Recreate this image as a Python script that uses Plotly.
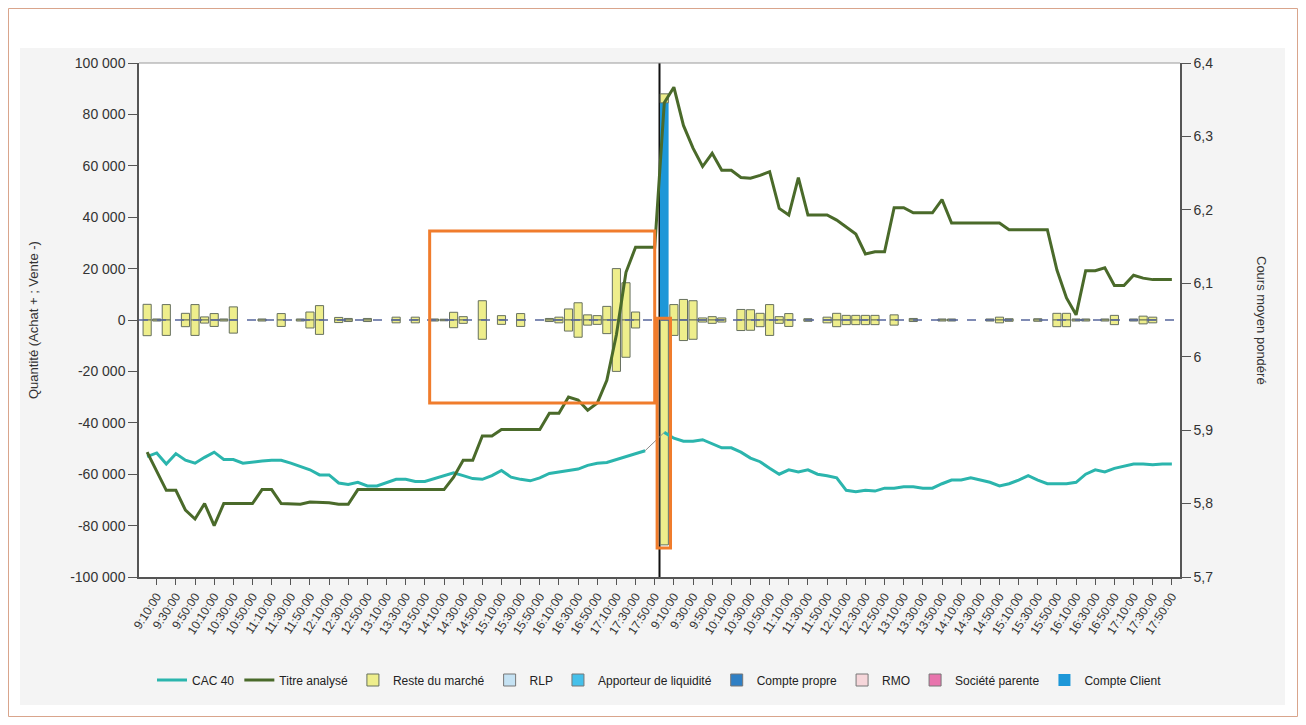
import plotly.graph_objects as go

# ---------------- DATA ----------------
heures = ["9:00:00", "9:10:00", "9:20:00", "9:30:00", "9:40:00", "9:50:00",
          "10:00:00", "10:10:00", "10:20:00", "10:30:00", "10:40:00", "10:50:00",
          "11:00:00", "11:10:00", "11:20:00", "11:30:00", "11:40:00", "11:50:00",
          "12:00:00", "12:10:00", "12:20:00", "12:30:00", "12:40:00", "12:50:00",
          "13:00:00", "13:10:00", "13:20:00", "13:30:00", "13:40:00", "13:50:00",
          "14:00:00", "14:10:00", "14:20:00", "14:30:00", "14:40:00", "14:50:00",
          "15:00:00", "15:10:00", "15:20:00", "15:30:00", "15:40:00", "15:50:00",
          "16:00:00", "16:10:00", "16:20:00", "16:30:00", "16:40:00", "16:50:00",
          "17:00:00", "17:10:00", "17:20:00", "17:30:00", "17:40:00", "17:50:00"]
categories = heures + heures          # jour 1 puis jour 2

# Reste du marché : achats (+) et ventes (-)
reste_achat_j1 = [6100, 400, 6000, None, 2600, 6000, 1200, 2500, 400, 5100,
                  None, None, 400, None, 2500, None, 400, 3100, 5600, None,
                  1000, 600, None, 600, None, None, 1100, None, 1100, None,
                  400, 300, 3000, 1300, None, 7500, None, 1700, None, 2500,
                  None, None, 600, 1100, 4300, 6700, 2000, 1700, 5300, 20000,
                  14500, 3100, None, None]
reste_vente_j1 = [-6100, -400, -6000, None, -2600, -6000, -1200, -2500, -400, -5100,
                  None, None, -400, None, -2500, None, -400, -3100, -5600, None,
                  -1000, -600, None, -600, None, None, -1100, None, -1100, None,
                  -400, -300, -3000, -1300, None, -7500, None, -1700, None, -2500,
                  None, None, -600, -1100, -4300, -6700, -2000, -1700, -5300, -20000,
                  -14500, -3100, None, None]
reste_achat_j2 = [3500, 6000, 8000, 7500, 800, 1300, 800, None, 4100, 4000,
                  2600, 6000, 1300, 2500, None, 500, None, 1100, 2600, 1800,
                  1800, 1800, 1800, None, 2000, None, 600, None, None, 400,
                  400, None, None, None, 400, 1100, 500, None, None, 500,
                  None, 2600, 2600, 400, 400, None, 400, 1800, None, 400,
                  1500, 1100, None, None]
reste_vente_j2 = [-87500, -6000, -8000, -7500, -800, -1300, -800, None, -4100, -4000,
                  -2600, -6000, -1300, -2500, None, -500, None, -1100, -2600, -1800,
                  -1800, -1800, -1800, None, -2000, None, -600, None, None, -400,
                  -400, None, None, None, -400, -1100, -500, None, None, -500,
                  None, -2600, -2600, -400, -400, None, -400, -1800, None, -400,
                  -1500, -1100, None, None]
# Compte Client (achat à l'ouverture du jour 2)
client_j1 = [None] * 54
client_j2 = [84500] + [None] * 53

# Cours (axe de droite)
titre_j1 = [5.870, 5.845, 5.818, 5.818, 5.791, 5.779, 5.800, 5.770, 5.800, 5.800,
            5.800, 5.800, 5.819, 5.819, 5.800, 5.799, 5.799, 5.802, 5.802, 5.801,
            5.799, 5.799, 5.819, 5.819, 5.819, 5.819, 5.819, 5.819, 5.819, 5.819,
            5.819, 5.819, 5.836, 5.859, 5.859, 5.892, 5.892, 5.901, 5.901, 5.901,
            5.901, 5.901, 5.923, 5.923, 5.945, 5.941, 5.927, 5.937, 5.968, 6.030,
            6.115, 6.149, 6.149, 6.149]
titre_j2 = [6.346, 6.367, 6.315, 6.284, 6.259, 6.277, 6.254, 6.254, 6.244, 6.243,
            6.247, 6.252, 6.202, 6.193, 6.244, 6.193, 6.193, 6.193, 6.186, 6.176,
            6.167, 6.140, 6.143, 6.143, 6.203, 6.203, 6.196, 6.196, 6.196, 6.214,
            6.182, 6.182, 6.182, 6.182, 6.182, 6.182, 6.173, 6.173, 6.173, 6.173,
            6.173, 6.118, 6.080, 6.057, 6.117, 6.117, 6.121, 6.097, 6.097, 6.111,
            6.107, 6.105, 6.105, 6.105]
cac_j1 = [5.864, 5.869, 5.854, 5.868, 5.859, 5.855, 5.863, 5.870, 5.860, 5.860,
          5.855, 5.857, 5.858, 5.859, 5.859, 5.855, 5.850, 5.846, 5.839, 5.839,
          5.828, 5.826, 5.829, 5.824, 5.824, 5.828, 5.833, 5.833, 5.830, 5.830,
          5.834, 5.839, 5.842, 5.838, 5.834, 5.833, 5.838, 5.845, 5.836, 5.833,
          5.831, 5.835, 5.841, 5.843, 5.845, 5.847, 5.852, 5.855, 5.856, 5.860,
          5.864, 5.869, 5.872, None]
cac_j2 = [5.897, 5.889, 5.885, 5.885, 5.887, 5.881, 5.876, 5.876, 5.870, 5.862,
          5.857, 5.848, 5.840, 5.846, 5.843, 5.846, 5.840, 5.838, 5.835, 5.818,
          5.816, 5.818, 5.817, 5.821, 5.821, 5.823, 5.823, 5.821, 5.821, 5.827,
          5.832, 5.832, 5.835, 5.832, 5.829, 5.824, 5.827, 5.832, 5.838, 5.832,
          5.827, 5.827, 5.827, 5.829, 5.840, 5.846, 5.843, 5.848, 5.851, 5.854,
          5.854, 5.853, 5.854, 5.854]

y_left_ticks = [100000, 80000, 60000, 40000, 20000, 0, -20000, -40000, -60000, -80000, -100000]
y_left_text = ["100 000", "80 000", "60 000", "40 000", "20 000", "0", "-20 000",
               "-40 000", "-60 000", "-80 000", "-100 000"]
y_right_ticks = [6.4, 6.3, 6.2, 6.1, 6.0, 5.9, 5.8, 5.7]
y_right_text = ["6,4", "6,3", "6,2", "6,1", "6", "5,9", "5,8", "5,7"]

# ---------------- FIGURE ----------------
x = list(range(len(categories)))
reste_achat = reste_achat_j1 + reste_achat_j2
reste_vente = reste_vente_j1 + reste_vente_j2
client = client_j1 + client_j2
titre = titre_j1 + titre_j2
cac = cac_j1 + cac_j2

FONT = "Liberation Sans, Arial, sans-serif"
YEL = "#eeee8c"
BAR_LINE = dict(color="#66705f", width=1)

fig = go.Figure()

# client first so that the yellow part is stacked on top of it
fig.add_trace(go.Bar(x=x, y=client, name="Compte Client", marker=dict(color="#1d97d8", line=dict(width=0)),
                     width=0.9, legendrank=9, yaxis="y"))
fig.add_trace(go.Bar(x=x, y=reste_achat, name="Reste du marché", marker=dict(color=YEL, line=BAR_LINE),
                     width=0.85, legendrank=3, legendgroup="reste", yaxis="y"))
fig.add_trace(go.Bar(x=x, y=reste_vente, name="Reste du marché", marker=dict(color=YEL, line=BAR_LINE),
                     width=0.85, showlegend=False, legendgroup="reste", yaxis="y"))

legend_only = [("RLP", "#c5e2f3", 4), ("Apporteur de liquidité", "#45c0ea", 5),
               ("Compte propre", "#2f7fc4", 6), ("RMO", "#f6d6da", 7),
               ("Société parente", "#e874ad", 8)]
for nm, col, rk in legend_only:
    fig.add_trace(go.Bar(x=x, y=[None] * len(x), name=nm, legendrank=rk,
                         marker=dict(color=col, line=dict(color="#777777", width=1))))

# connector across the overnight gap for CAC 40 (empty point)
fig.add_trace(go.Scatter(x=[52, 54], y=[cac[52], cac[54]], mode="lines",
                         line=dict(color="#8a8a8a", width=1), showlegend=False,
                         hoverinfo="skip", yaxis="y2"))
fig.add_trace(go.Scatter(x=x, y=cac, name="CAC 40", mode="lines", legendrank=1,
                         line=dict(color="#2bb5ad", width=3), yaxis="y2", connectgaps=False))
fig.add_trace(go.Scatter(x=x, y=titre, name="Titre analysé", mode="lines", legendrank=2,
                         line=dict(color="#4a6a2a", width=3), yaxis="y2"))

# page is rendered with an 8px body margin: compensate
OFF = 8
W, H = 1306 - 2 * OFF, 725 - 2 * OFF
L, R, T, B = 139, 1180, 63, 577            # plot area in page pixels
pw, ph = R - L, B - T


def px(v):
    return (v - L) / pw


def py(v):
    return (B - v) / ph


shapes = [
    # light grey chart area
    dict(type="rect", xref="paper", yref="paper", x0=px(20), x1=px(1285), y0=py(705), y1=py(48),
         fillcolor="#f4f4f4", line=dict(width=0), layer="below"),
    dict(type="rect", xref="paper", yref="paper", x0=0, x1=1, y0=0, y1=1,
         fillcolor="white", line=dict(width=0), layer="below"),
    # outer frame
    dict(type="rect", xref="paper", yref="paper", x0=px(8.5), x1=px(1297.5), y0=py(716.5), y1=py(8.5),
         line=dict(color="#d9a58c", width=1), layer="below"),
    # top border of the plot area
    dict(type="line", xref="paper", yref="paper", x0=0, x1=1, y0=1, y1=1,
         line=dict(color="#9a9a9a", width=1), layer="above"),
    # vertical separator between the two sessions
    dict(type="line", xref="x", yref="y", x0=53.5, x1=53.5, y0=-100000, y1=100000,
         line=dict(color="#111111", width=2), layer="below"),
    # zero dashed line
    dict(type="line", xref="paper", yref="y", x0=0, x1=1, y0=0, y1=0,
         line=dict(color="#55669c", width=1.4, dash="dash"), layer="above"),
    # orange highlight boxes
    dict(type="rect", xref="x", yref="y", x0=29.5, x1=53.0, y0=-32300, y1=34600,
         line=dict(color="#f07c2c", width=3), layer="above"),
    dict(type="rect", xref="x", yref="y", x0=53.25, x1=54.65, y0=-88700, y1=700,
         line=dict(color="#f07c2c", width=3), layer="above"),
]

annotations = [
    dict(text="Quantité (Achat + ; Vente -)", xref="paper", yref="paper", x=px(33), y=0.5,
         xanchor="center", yanchor="middle",
         textangle=-90, showarrow=False, font=dict(size=13, color="#333333", family=FONT)),
    dict(text="Cours moyen pondéré", xref="paper", yref="paper", x=px(1262), y=0.5,
         xanchor="center", yanchor="middle",
         textangle=90, showarrow=False, font=dict(size=13, color="#333333", family=FONT)),
]

tickvals = [i for i in x if i % 2 == 1]
ticktext = [categories[i] for i in tickvals]

fig.update_layout(
    width=W, height=H,
    margin=dict(l=L - OFF, r=(W + OFF) - R, t=T - OFF, b=(H + OFF) - B, pad=0),
    paper_bgcolor="white", plot_bgcolor="white",
    barmode="relative", bargap=0.15,
    font=dict(family=FONT, size=12, color="#333333"),
    shapes=shapes, annotations=annotations,
    showlegend=True,
    legend=dict(orientation="h", x=0.5, xanchor="center", y=py(680), yanchor="middle",
                font=dict(size=12, color="#222222", family=FONT), bgcolor="rgba(0,0,0,0)",
                traceorder="normal"),
    xaxis=dict(range=[-0.85, 107.85], tickmode="array", tickvals=tickvals, ticktext=ticktext,
               tickangle=-57, tickfont=dict(size=12), ticks="outside", ticklen=6,
               tickcolor="#555555", showline=True, linecolor="#555555", linewidth=1.5,
               showgrid=False, zeroline=False),
    yaxis=dict(range=[-100000, 100000], tickmode="array", tickvals=y_left_ticks,
               ticktext=y_left_text, tickfont=dict(size=14), ticks="outside", ticklen=9,
               tickcolor="#555555", showline=True, linecolor="#555555", linewidth=1.5,
               showgrid=False, zeroline=False),
    yaxis2=dict(range=[5.7, 6.4], overlaying="y", side="right", tickmode="array",
                tickvals=y_right_ticks, ticktext=y_right_text, tickfont=dict(size=14),
                ticks="outside", ticklen=9, tickcolor="#555555", showline=True,
                linecolor="#555555", linewidth=1.5, showgrid=False, zeroline=False),
)

fig.write_html("out.html")
